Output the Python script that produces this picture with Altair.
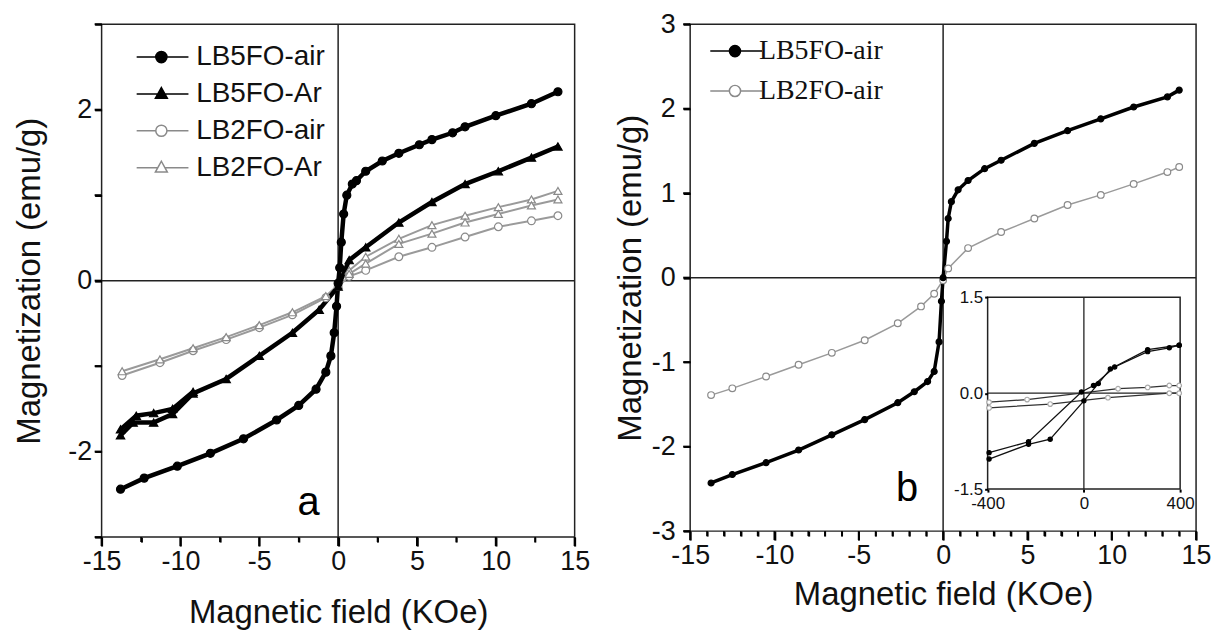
import altair as alt
import pandas as pd

# ---------------- panel a data ----------------
A_SERIES = ["LB5FO-air", "LB5FO-Ar", "LB2FO-air", "LB2FO-Ar"]

A_B5AIR_X = [-13.8, -12.3, -10.2, -8.1, -6.0, -3.9, -2.5, -1.4, -0.78, -0.46, -0.25, -0.1, 0.0, 0.1, 0.2,
             0.35, 0.55, 0.9, 1.16, 1.75, 2.8, 3.85, 5.15, 5.95, 7.26, 8.05, 10.0, 12.26, 13.94]
A_B5AIR_Y = [-2.44, -2.31, -2.17, -2.02, -1.85, -1.63, -1.46, -1.27, -1.07, -0.88, -0.61, -0.30, -0.03, 0.15, 0.45,
             0.78, 1.00, 1.13, 1.17, 1.28, 1.40, 1.49, 1.59, 1.65, 1.73, 1.80, 1.93, 2.07, 2.21]

A_B5AR_X = [-13.8, -13.0, -11.7, -10.5, -9.2, -7.1, -5.0, -2.9, -1.2, 0.0, 0.7, 1.75, 3.85, 5.95, 8.05, 10.16, 12.26, 13.94]
A_B5AR_Y = [-1.81, -1.66, -1.66, -1.56, -1.32, -1.15, -0.88, -0.61, -0.34, -0.07, 0.24, 0.39, 0.68, 0.92, 1.13, 1.28, 1.44, 1.57]
A_B5AR2_X = [-13.8, -12.8, -11.7, -10.5, -9.2]
A_B5AR2_Y = [-1.74, -1.58, -1.55, -1.50, -1.30]

A_B2AIR_X = [-13.7, -11.3, -9.2, -7.1, -5.0, -2.9, -0.78, 0.0, 0.7, 1.75, 3.85, 5.95, 8.05, 10.16, 12.26, 13.94]
A_B2AIR_Y = [-1.11, -0.96, -0.82, -0.69, -0.55, -0.40, -0.20, -0.07, 0.05, 0.12, 0.28, 0.39, 0.51, 0.63, 0.70, 0.76]

A_B2AR_X = [-13.7, -11.3, -9.2, -7.1, -5.0, -2.9, -0.78, 0.0, 0.7, 1.75, 3.85, 5.95, 8.05, 10.16, 12.26, 13.94]
A_B2AR_Y = [-1.06, -0.92, -0.79, -0.66, -0.52, -0.37, -0.18, -0.05, 0.12, 0.28, 0.49, 0.65, 0.76, 0.86, 0.95, 1.05]
A_B2AR2_X = [0.7, 1.75, 3.85, 5.95, 8.05, 10.16, 12.26, 13.94]
A_B2AR2_Y = [0.08, 0.20, 0.43, 0.55, 0.68, 0.78, 0.88, 0.95]

# ---------------- panel b data ----------------
B_SERIES = ["LB5FO-air", "LB2FO-air"]
B_B5AIR_X = [-13.76, -12.5, -10.5, -8.57, -6.6, -4.65, -2.69, -1.71, -0.92, -0.53, -0.24, -0.1, 0.0,
             0.2, 0.3, 0.49, 0.89, 1.48, 2.46, 3.44, 5.41, 7.38, 9.35, 11.3, 13.3, 14.0]
B_B5AIR_Y = [-2.43, -2.33, -2.19, -2.04, -1.86, -1.68, -1.48, -1.35, -1.23, -1.11, -0.76, -0.28, 0.0,
             0.43, 0.70, 0.90, 1.04, 1.15, 1.29, 1.39, 1.59, 1.74, 1.88, 2.02, 2.14, 2.22]
B_B2AIR_X = [-13.76, -12.5, -10.5, -8.57, -6.6, -4.65, -2.69, -1.31, -0.53, 0.0, 0.3, 1.48, 3.44, 5.41,
             7.38, 9.35, 11.3, 13.3, 14.0]
B_B2AIR_Y = [-1.39, -1.31, -1.17, -1.03, -0.89, -0.74, -0.54, -0.34, -0.19, -0.03, 0.11, 0.35, 0.54, 0.70,
             0.86, 0.98, 1.11, 1.25, 1.31]

# inset (Oe, emu/g)
IN_B5_1_X = [-394, -230, -140, 0, 60, 110, 265, 396]
IN_B5_1_Y = [-1.03, -0.80, -0.72, -0.12, 0.15, 0.38, 0.68, 0.75]
IN_B5_2_X = [-394, -230, -10, 40, 128, 265, 355, 396]
IN_B5_2_Y = [-0.93, -0.76, 0.02, 0.12, 0.41, 0.65, 0.71, 0.75]
IN_B2_1_X = [-394, -236, 142, 265, 355, 396]
IN_B2_1_Y = [-0.14, -0.10, 0.07, 0.09, 0.12, 0.12]
IN_B2_2_X = [-394, -140, 100, 355, 396]
IN_B2_2_Y = [-0.23, -0.17, -0.07, 0.0, 0.0]

# axes
MAIN_X_DOMAIN = [-15, 15]
MAIN_Y_DOMAIN = [-3, 3]
X_MAJOR = [-15, -10, -5, 0, 5, 10, 15]
A_X_MINOR = [-12.5, -7.5, -2.5, 2.5, 7.5, 12.5]
B_X_MINOR = [v for v in range(-15, 16) if v % 5 != 0]
Y_TICKS = [-3, -2, -1, 0, 1, 2, 3]
IN_X_DOMAIN = [-400, 400]
IN_Y_DOMAIN = [-1.5, 1.5]
IN_X_TICKS = [-400, 0, 400]
IN_Y_TICKS = [-1.5, 0, 1.5]

PANEL_TAG_A = {"x": [-1.87], "y": [-2.6], "t": ["a"]}
PANEL_TAG_B = {"x": [-2.14], "y": [-2.5], "t": ["b"]}

# ---------------- styles ----------------
GRAY_M = "#8a8a8a"
GRAY_L = "#9a9a9a"
STYLE = {
    "LB5FO-air": dict(shape="circle", mfill="#000000", mstroke="#000000", lcolor="#000000", lw=4.5, size=65),
    "LB5FO-Ar": dict(shape="triangle-up", mfill="#000000", mstroke="#000000", lcolor="#000000", lw=4.5, size=70),
    "LB2FO-air": dict(shape="circle", mfill="#ffffff", mstroke=GRAY_M, lcolor=GRAY_L, lw=2.0, size=60),
    "LB2FO-Ar": dict(shape="triangle-up", mfill="#ffffff", mstroke=GRAY_M, lcolor=GRAY_L, lw=2.0, size=65),
}
STYLE_B = dict(STYLE)
STYLE_B["LB5FO-air"] = dict(shape="circle", mfill="#000000", mstroke="#000000", lcolor="#000000", lw=3.5, size=36)
STYLE_B["LB2FO-air"] = dict(shape="circle", mfill="#ffffff", mstroke=GRAY_M, lcolor=GRAY_L, lw=1.5, size=45)
STYLE_IN = {
    "LB5FO-air": dict(shape="circle", mfill="#000000", mstroke="#000000", lcolor="#111111", lw=1.3, size=18),
    "LB2FO-air": dict(shape="circle", mfill="#ffffff", mstroke="#aaaaaa", lcolor="#333333", lw=1.3, size=22),
}

LEG_CIRCLE = "M-3.1,0H-0.7M0.7,0H3.4M0.7,0A0.7,0.7,0,1,1,-0.7,0A0.7,0.7,0,1,1,0.7,0Z"
LEG_TRI = "M-3.1,0H-0.45M0.45,0H3.4M0,-0.8L0.75,0.55L-0.75,0.55Z"


def build(style, series, branch, xs, ys):
    st = style[series]
    return pd.DataFrame({
        "series": series, "branch": series + "|" + branch, "i": list(range(len(xs))),
        "x": xs, "y": ys, "shape": st["shape"], "mfill": st["mfill"], "mstroke": st["mstroke"],
        "lcolor": st["lcolor"], "lw": st["lw"], "size": st["size"],
    })


df_a = pd.concat([
    build(STYLE, "LB2FO-air", "1", A_B2AIR_X, A_B2AIR_Y),
    build(STYLE, "LB2FO-Ar", "1", A_B2AR_X, A_B2AR_Y),
    build(STYLE, "LB2FO-Ar", "2", A_B2AR2_X, A_B2AR2_Y),
    build(STYLE, "LB5FO-Ar", "1", A_B5AR_X, A_B5AR_Y),
    build(STYLE, "LB5FO-Ar", "2", A_B5AR2_X, A_B5AR2_Y),
    build(STYLE, "LB5FO-air", "1", A_B5AIR_X, A_B5AIR_Y),
], ignore_index=True)

df_b = pd.concat([
    build(STYLE_B, "LB2FO-air", "1", B_B2AIR_X, B_B2AIR_Y),
    build(STYLE_B, "LB5FO-air", "1", B_B5AIR_X, B_B5AIR_Y),
], ignore_index=True)

df_in = pd.concat([
    build(STYLE_IN, "LB2FO-air", "1", IN_B2_1_X, IN_B2_1_Y),
    build(STYLE_IN, "LB2FO-air", "2", IN_B2_2_X, IN_B2_2_Y),
    build(STYLE_IN, "LB5FO-air", "1", IN_B5_1_X, IN_B5_1_Y),
    build(STYLE_IN, "LB5FO-air", "2", IN_B5_2_X, IN_B5_2_Y),
], ignore_index=True)

FONT = "Liberation Sans"
AX_DARK = "#222222"
NUM = "'' + datum.value"
TICK = dict(tickColor="#000000", tickWidth=2, zindex=1)

# ---------------- layout sizes ----------------
A_W, A_H = 475, 515
B_W, B_H = 508, 509
IN_RANGE_X = [298.7, 492.0]
IN_RANGE_Y = [466.8, 274.2]
MAJOR_LEN, MINOR_LEN, Y_LEN = 9, 5, 7


def layers_for(df, xs, ys, ax_x, ax_minor, ax_y, legend, series, leg_paths, leg_fill, leg_stroke, tag,
               x_minor, plot_h):
    def X(axis):
        return alt.X("x:Q", scale=xs, axis=axis)
    zy = alt.Y("y:Q", scale=ys, axis=ax_y)
    rule_h = alt.Chart(pd.DataFrame({"x": [MAIN_X_DOMAIN[0]], "x2": [MAIN_X_DOMAIN[1]], "y": [0]})).mark_rule(
        color="#222222", strokeWidth=1.5).encode(x=X(None), x2="x2:Q", y=zy)
    rule_v = alt.Chart(pd.DataFrame({"x": [0], "y": [MAIN_Y_DOMAIN[0]], "y2": [MAIN_Y_DOMAIN[1]]})).mark_rule(
        color="#222222", strokeWidth=1.5).encode(x=X(ax_minor), y=zy, y2="y2:Q")
    # tick marks along the frame, positioned by the scales
    tick_major = alt.Chart(pd.DataFrame({"x": X_MAJOR})).mark_rule(
        color="#000000", strokeWidth=2, clip=False).encode(
        x=X(None), y=alt.value(plot_h), y2=alt.value(plot_h + MAJOR_LEN))
    tick_minor = alt.Chart(pd.DataFrame({"x": x_minor})).mark_rule(
        color="#000000", strokeWidth=1.6, clip=False).encode(
        x=X(None), y=alt.value(plot_h), y2=alt.value(plot_h + MINOR_LEN))
    tick_y = alt.Chart(pd.DataFrame({"y": Y_TICKS})).mark_rule(
        color="#000000", strokeWidth=2, clip=False).encode(
        y=zy, x=alt.value(-Y_LEN), x2=alt.value(0))
    lines = alt.Chart(df).mark_line().encode(
        x=X(ax_x), y=zy, detail="branch:N", order="i:Q",
        stroke=alt.Stroke("lcolor:N", scale=None),
        strokeWidth=alt.StrokeWidth("lw:Q", scale=None))
    pts = alt.Chart(df).mark_point(filled=True, opacity=1, strokeWidth=1.2).encode(
        x=X(None), y=zy,
        shape=alt.Shape("shape:N", scale=None),
        fill=alt.Fill("mfill:N", scale=None),
        stroke=alt.Stroke("mstroke:N", scale=None),
        size=alt.Size("size:Q", scale=None))
    leg = alt.Chart(df).transform_filter("datum.x > 1000").mark_point(
        filled=True, opacity=1, strokeWidth=1.5).encode(
        x=X(None), y=zy,
        shape=alt.Shape("series:N", scale=alt.Scale(domain=series, range=leg_paths), legend=legend),
        fill=alt.Fill("series:N", scale=alt.Scale(domain=series, range=leg_fill), legend=legend),
        stroke=alt.Stroke("series:N", scale=alt.Scale(domain=series, range=leg_stroke), legend=legend))
    text = alt.Chart(pd.DataFrame(tag)).mark_text(font=FONT, fontSize=40, color="#000000").encode(
        x=X(None), y=zy, text="t:N")
    return alt.layer(rule_h, rule_v, lines, pts, leg, text, tick_major, tick_minor, tick_y).resolve_scale(
        shape="independent", fill="independent", stroke="independent", size="independent",
        strokeWidth="independent"
    ).resolve_axis(x="independent")


xs_main = alt.Scale(domain=MAIN_X_DOMAIN, nice=False, zero=False)
ys_main = alt.Scale(domain=MAIN_Y_DOMAIN, nice=False, zero=False)

# ---------------- panel a ----------------
ax_a_x = alt.Axis(title="Magnetic field (KOe)", orient="bottom", values=X_MAJOR, labelExpr=NUM,
                  tickSize=9, labelPadding=3, titlePadding=22, labelFlush=False, **TICK)
ax_a_minor = alt.Axis(title=None, orient="bottom", values=A_X_MINOR, labels=False, tickSize=5, **TICK)
ax_a_y = alt.Axis(title="Magnetization (emu/g)", values=Y_TICKS,
                  labelExpr="datum.value % 2 === 0 ? '' + datum.value : ''",
                  tickSize=7, labelPadding=3, titlePadding=21, **TICK)
leg_a = alt.Legend(title=None, orient="none", legendX=46, legendY=19, labelFont=FONT, labelFontSize=28,
                   labelColor="#111111", symbolSize=256, symbolStrokeWidth=1.5, labelOffset=21,
                   rowPadding=9, padding=0)

panel_a = layers_for(
    df_a, xs_main, ys_main, ax_a_x, ax_a_minor, ax_a_y, leg_a, A_SERIES,
    [LEG_CIRCLE, LEG_TRI, LEG_CIRCLE, LEG_TRI],
    ["#000000", "#000000", "#ffffff", "#ffffff"],
    ["#000000", "#000000", GRAY_M, GRAY_M],
    PANEL_TAG_A, A_X_MINOR, A_H,
).properties(width=A_W, height=A_H)

# ---------------- panel b ----------------
ax_b_x = alt.Axis(title="Magnetic field (KOe)", orient="bottom", values=X_MAJOR, labelExpr=NUM,
                  tickSize=9, labelPadding=3, titlePadding=10, labelFlush=False, **TICK)
ax_b_minor = alt.Axis(title=None, orient="bottom", values=B_X_MINOR, labels=False, tickSize=5, **TICK)
ax_b_y = alt.Axis(title="Magnetization (emu/g)", values=Y_TICKS, labelExpr=NUM, tickSize=7, labelPadding=8,
                  titlePadding=4, **TICK)
leg_b = alt.Legend(title=None, orient="none", legendX=31, legendY=13, labelFont="Liberation Serif",
                   labelFontSize=28, labelColor="#111111", symbolSize=256, symbolStrokeWidth=1.5,
                   labelOffset=10, rowPadding=12, padding=0)

main_b = layers_for(
    df_b, xs_main, ys_main, ax_b_x, ax_b_minor, ax_b_y, leg_b, B_SERIES,
    [LEG_CIRCLE, LEG_CIRCLE], ["#000000", "#ffffff"], ["#000000", GRAY_M],
    PANEL_TAG_B, B_X_MINOR, B_H,
)

xs_in = alt.Scale(domain=IN_X_DOMAIN, range=IN_RANGE_X, nice=False, zero=False)
ys_in = alt.Scale(domain=IN_Y_DOMAIN, range=IN_RANGE_Y, nice=False, zero=False)
ax_in_x = alt.Axis(title=None, orient="bottom", offset=IN_RANGE_Y[0] - B_H, values=IN_X_TICKS, labelExpr=NUM,
                   labelFontSize=17, tickSize=3, labelPadding=3, labelFlush=False, **TICK)
ax_in_y = alt.Axis(title=None, orient="left", offset=-IN_RANGE_X[0], values=IN_Y_TICKS,
                   labelExpr="datum.value === 0 ? '0.0' : '' + datum.value",
                   labelFontSize=17, tickSize=3, labelPadding=2, **TICK)
ix = alt.X("x:Q", scale=xs_in, axis=ax_in_x)
iy = alt.Y("y:Q", scale=ys_in, axis=ax_in_y)

in_frame = alt.Chart(pd.DataFrame({"x": [IN_X_DOMAIN[0]], "x2": [IN_X_DOMAIN[1]],
                                   "y": [IN_Y_DOMAIN[0]], "y2": [IN_Y_DOMAIN[1]]})).mark_rect(
    fill="#ffffff", stroke=AX_DARK, strokeWidth=1.5).encode(x=ix, x2="x2:Q", y=iy, y2="y2:Q")
in_rule_h = alt.Chart(pd.DataFrame({"x": [IN_X_DOMAIN[0]], "x2": [IN_X_DOMAIN[1]], "y": [0]})).mark_rule(
    color="#222222", strokeWidth=1.3).encode(x=ix, x2="x2:Q", y=iy)
in_rule_v = alt.Chart(pd.DataFrame({"x": [0], "y": [IN_Y_DOMAIN[0]], "y2": [IN_Y_DOMAIN[1]]})).mark_rule(
    color="#222222", strokeWidth=1.3).encode(x=ix, y=iy, y2="y2:Q")
in_lines = alt.Chart(df_in).mark_line().encode(
    x=ix, y=iy, detail="branch:N", order="i:Q",
    stroke=alt.Stroke("lcolor:N", scale=None), strokeWidth=alt.StrokeWidth("lw:Q", scale=None))
in_pts = alt.Chart(df_in).mark_point(filled=True, opacity=1, strokeWidth=1.2).encode(
    x=ix, y=iy, shape=alt.Shape("shape:N", scale=None), fill=alt.Fill("mfill:N", scale=None),
    stroke=alt.Stroke("mstroke:N", scale=None), size=alt.Size("size:Q", scale=None))
inset = alt.layer(in_frame, in_rule_h, in_rule_v, in_lines, in_pts).resolve_scale(
    shape="independent", fill="independent", stroke="independent", size="independent",
    strokeWidth="independent")

panel_b = alt.layer(main_b, inset).resolve_scale(
    x="independent", y="independent", shape="independent", fill="independent",
    stroke="independent", size="independent", strokeWidth="independent"
).properties(width=B_W, height=B_H)

chart = alt.hconcat(panel_a, panel_b, spacing=116, bounds="flush").resolve_scale(
    x="independent", y="independent", shape="independent", fill="independent",
    stroke="independent", size="independent", strokeWidth="independent"
).properties(
    padding={"left": 5, "top": 0, "right": 0, "bottom": 0}
).configure_view(
    stroke=AX_DARK, strokeWidth=1.5
).configure_axis(
    domain=False, grid=False, labelFont=FONT, labelFontSize=27, labelColor="#111111",
    titleFont=FONT, titleFontSize=33, titleFontWeight="normal", titleColor="#111111",
    labelOverlap=False
)

chart.save("out.html", embed_options={"renderer": "svg", "actions": False})
